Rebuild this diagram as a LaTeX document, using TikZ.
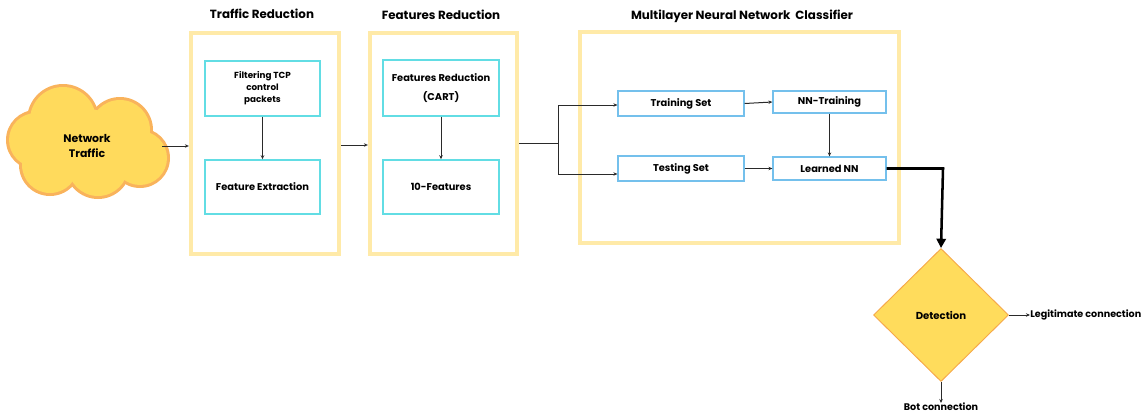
\documentclass[tikz,border=0pt]{standalone}
\usepackage{fontspec}
\setmainfont{Poppins}
\usetikzlibrary{arrows.meta,fit,shapes.geometric}
\definecolor{frameY}{HTML}{FFEAA8}
\definecolor{cyanB}{HTML}{62DDE4}
\definecolor{blueB}{HTML}{74C0EC}
\definecolor{cloudF}{HTML}{FFDA5C}
\definecolor{cloudE}{HTML}{F9B35C}
\definecolor{diaF}{HTML}{FFDC5C}
\definecolor{diaE}{HTML}{F6A84A}
\definecolor{ink}{HTML}{2A2A2A}
\tikzset{
  stage/.style={draw=frameY, line width=3.2pt, inner sep=0pt},
  inbox/.style={draw=cyanB, line width=1.1pt, inner sep=0pt},
  nnbox/.style={draw=blueB, line width=0.9pt, inner sep=0pt},
  txt/.style={inner sep=0pt, align=center, text=black, font=\bfseries\fontsize{7.4}{9}\selectfont},
  title/.style={font=\bfseries\fontsize{8.9}{10}\selectfont, text=black},
  flow/.style={draw=ink, line width=0.75pt, -{Stealth[length=3pt,width=2.6pt]}},
  plain/.style={draw=ink, line width=0.75pt},
  heavy/.style={draw=black, line width=1.9pt},
  lbl/.style={inner sep=0pt, font=\bfseries\fontsize{7.2}{9}\selectfont, text=black},
}
\begin{document}
\begin{tikzpicture}[x=0.75pt,y=-0.75pt]
\useasboundingbox (0,0) rectangle (1148,414);

% network traffic cloud: union of discs, outline first then fill
\foreach \cx/\cy/\r in {63/120/33, 120/130/30, 140/158/27, 98/166/30, 50/165/28, 36/140/27, 88/145/36}
  \fill[cloudE] (\cx,\cy) circle[radius=\r+3];
\foreach \cx/\cy/\r in {63/120/33, 120/130/30, 140/158/27, 98/166/30, 50/165/28, 36/140/27, 88/145/36}
  \fill[cloudF] (\cx,\cy) circle[radius=\r];
\node[inner sep=0pt, minimum width=150*0.75pt, minimum height=105*0.75pt, align=center,
      font=\bfseries\fontsize{8.2}{11}\selectfont] (cloud) at (87,146) {Network\\Traffic};

% stage frames
\node[stage, fit={(191,33) (339,254)}] (s1) {};
\node[stage, fit={(370,33) (517,254)}] (s2) {};
\node[stage, fit={(580,32) (899,243)}] (s3) {};
\node[title] at (262,14) {Traffic Reduction};
\node[title] at (441,15) {Features Reduction};
\node[title] at (742,16) {Multilayer Neural Network\ \ Classifier};

% traffic reduction
\node[inbox, fit={(205,61) (320,116)}] (filt) {};
\node[txt, font=\bfseries\fontsize{6.6}{9}\selectfont] at (filt.center) {Filtering TCP\\control\\packets};
\node[inbox, fit={(205,160) (320,214)}] (fext) {};
\node[txt] at (fext.center) {Feature Extraction};

% features reduction
\node[inbox, fit={(383,60) (499,116)}] (cart) {};
\node[txt] at (cart.center) {Features Reduction\\[5pt](CART)};
\node[inbox, fit={(383,160) (499,214)}] (ten) {};
\node[txt] at (ten.center) {10-Features};

% classifier
\node[nnbox, fit={(618,91) (744,116)}] (train) {};
\node[txt] at (train.center) {Training Set};
\node[nnbox, fit={(618,156) (744,181)}] (test) {};
\node[txt] at (test.center) {Testing Set};
\node[nnbox, fit={(773,91) (886,113)}] (nnt) {};
\node[txt] at (nnt.center) {NN-Training};
\node[nnbox, fit={(773,157) (886,180)}] (lnn) {};
\node[txt] at (lnn.center) {Learned NN};

% detection
\node[diamond, draw=diaE, fill=diaF, line width=0.7pt, inner sep=0pt,
      minimum width=135*0.75pt, minimum height=133*0.75pt,
      font=\bfseries\fontsize{7.6}{9}\selectfont] (det) at (941,315) {Detection};
\node[lbl, anchor=west] (legit) at (1030,315) {Legitimate connection};
\node[lbl, anchor=north] (bot) at (941,403) {Bot connection};

% connectors
\coordinate (split) at (558,143);
\coordinate (upper) at (558,105);
\coordinate (lower) at (558,174);
\draw[flow] (cloud.east |- 0,146) -- (s1.west |- 0,146);
\draw[flow] (filt.south) -- (fext.north);
\draw[flow] (s1.east |- 0,145) -- (s2.west |- 0,145);
\draw[flow] (cart.south) -- (ten.north);
\draw[plain] (s2.east |- split) -- (split);
\draw[plain] (upper) -- (lower);
\draw[flow] (upper) -- (train.west |- upper);
\draw[flow] (lower) -- (test.west |- lower);
\draw[flow] (train.east) -- (nnt.west);
\draw[flow] (nnt.south) -- (lnn.north);
\draw[flow] (test.east) -- (lnn.west);
\coordinate (corner) at (943,168.5);
\draw[heavy, -{Triangle[length=7pt,width=7pt]}] (lnn.east) -- (corner) -- (det.north);
\fill (corner) circle[radius=1.3];
\draw[flow] (det.east) -- (legit.west);
\draw[flow] (det.south) -- (bot.north);
\end{tikzpicture}
\end{document}
